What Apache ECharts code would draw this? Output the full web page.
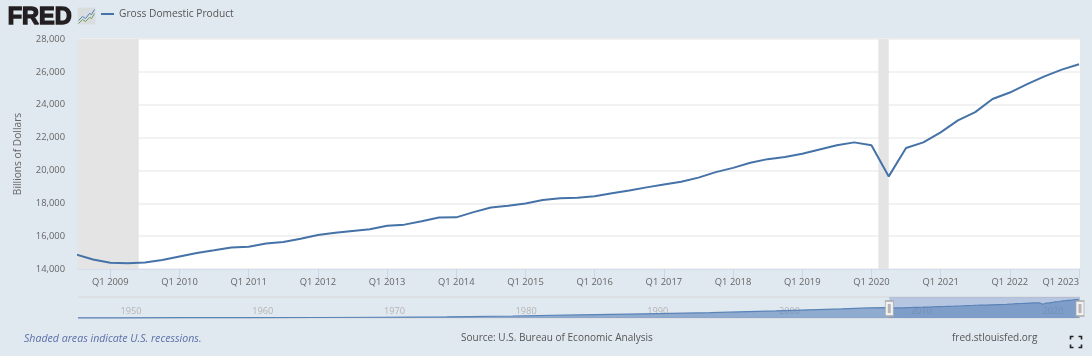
<!DOCTYPE html>
<html>
<head>
<meta charset="utf-8">
<style>html,body{margin:0;padding:0;background:#e1e9f0}#c{width:1092px;height:356px}</style>
<script src="https://cdn.jsdelivr.net/npm/echarts@6/dist/echarts.min.js"></script>
</head>
<body>
<div id="c"></div>
<script>
const seriesName = 'Gross Domestic Product';
// Quarterly values, Q3 2008 to Q1 2023 (billions of dollars)
const quarters = [2008.5,2008.75,
 2009,2009.25,2009.5,2009.75,2010,2010.25,2010.5,2010.75,2011,2011.25,2011.5,2011.75,
 2012,2012.25,2012.5,2012.75,2013,2013.25,2013.5,2013.75,2014,2014.25,2014.5,2014.75,
 2015,2015.25,2015.5,2015.75,2016,2016.25,2016.5,2016.75,2017,2017.25,2017.5,2017.75,
 2018,2018.25,2018.5,2018.75,2019,2019.25,2019.5,2019.75,2020,2020.25,2020.5,2020.75,
 2021,2021.25,2021.5,2021.75,2022,2022.25,2022.5,2022.75,2023];
const gdp = [14891,14577,
 14375,14356,14402,14542,14765,14980,15142,15310,15351,15558,15648,15842,
 16069,16207,16320,16420,16629,16700,16911,17133,17144,17463,17743,17853,
 17991,18194,18307,18332,18425,18612,18776,18968,19148,19305,19562,19895,
 20156,20470,20687,20819,21013,21272,21532,21707,21538,19637,21362,21705,
 22314,23047,23550,24349,24741,25249,25724,26137,26466];
// Earlier history for the navigator strip
const historyYears = [1947,1950,1955,1960,1965,1970,1975,1980,1985,1990,1995,2000,2005,2007];
const historyGdp = [244,294,426,543,743,1073,1685,2857,4339,5963,7640,10251,13039,14452];
const yTicks = {min:14000,max:28000,step:2000};
const tickYears = [2009,2010,2011,2012,2013,2014,2015,2016,2017,2018,2019,2020,2021,2022,2023];
const navTickYears = [1950,1960,1970,1980,1990,2000,2010,2020];
const recessions = [[2008.5,2009.41],[2020.1,2020.25]];
const viewRange = [2008.533,2023.014];
const navRange = [1947,2023.08];
const navWindow = [2008.6,2023.08];

const navData = historyYears.map((y,i)=>[y,historyGdp[i]]).concat(quarters.map((q,i)=>[q,gdp[i]]).filter(d=>d[0]>2008));
const FONT = '"Open Sans", sans-serif';
const navMax = 30000;

const handle = (x)=>[
 {coord:[x,13500],symbol:'rect',symbolSize:[8,15],itemStyle:{color:'#f2f2f2',borderColor:'#a9a9a9',borderWidth:1}},
 {coord:[x,13500],symbol:'rect',symbolSize:[3,9],itemStyle:{color:'#b5b5b5',borderWidth:0}}
];

const option = {
 animation:false,
 backgroundColor:'#e1e9f0',
 textStyle:{fontFamily:FONT},
 legend:{data:[seriesName],left:101,top:9,icon:'rect',itemWidth:13,itemHeight:2,itemGap:5,padding:0,
   textStyle:{color:'#555',fontSize:10.2,fontFamily:FONT,fontWeight:500}},
 grid:[
  {left:78,top:39,width:1002,height:230,show:true,backgroundColor:'#fff',borderWidth:0,containLabel:false},
  {left:78,top:297,width:1002,height:21,show:false}
 ],
 xAxis:[
  {type:'value',gridIndex:0,min:viewRange[0],max:viewRange[1],splitLine:{show:false},
   axisLine:{show:true,lineStyle:{color:'#d3dded',width:1}},
   axisTick:{show:true,length:9,customValues:tickYears,lineStyle:{color:'#ccd6eb',width:1}},
   axisLabel:{customValues:tickYears,formatter:v=>'Q1 '+Math.round(v),color:'#666',fontSize:9.4,margin:9,alignMaxLabel:'right',showMinLabel:true,showMaxLabel:true,fontFamily:FONT}},
  {type:'value',gridIndex:1,min:navRange[0],max:navRange[1],splitLine:{show:false},
   axisLine:{show:false},axisTick:{show:false},
   axisLabel:{inside:true,customValues:navTickYears,formatter:v=>String(Math.round(v)),color:'#b4b4b4',fontSize:9.2,align:'left',padding:[0,0,0,3],margin:2,fontFamily:FONT}}
 ],
 yAxis:[
  {type:'value',gridIndex:0,min:yTicks.min,max:yTicks.max,interval:yTicks.step,
   name:'Billions of Dollars',nameLocation:'middle',nameGap:55,nameTextStyle:{color:'#666',fontSize:10.2,fontFamily:FONT},
   axisLine:{show:false},axisTick:{show:false},
   splitLine:{show:true,lineStyle:{color:'#eeeeee',width:1.5}},
   axisLabel:{formatter:v=>v.toLocaleString('en-US'),color:'#666',fontSize:9.4,margin:13,fontFamily:FONT}},
  {type:'value',gridIndex:1,min:0,max:navMax,interval:navMax,
   axisLine:{show:false},axisTick:{show:false},axisLabel:{show:false},
   splitLine:{show:true,lineStyle:{color:'#dcdfe3',width:2}}}
 ],
 series:[
  {name:seriesName,type:'line',xAxisIndex:0,yAxisIndex:0,data:quarters.map((q,i)=>[q,gdp[i]]),
   showSymbol:false,symbol:'none',lineStyle:{color:'#4572a7',width:2},itemStyle:{color:'#4572a7'},z:3,
   markArea:{silent:true,itemStyle:{color:'#e4e4e4'},z:1,
     data:recessions.map(r=>[{xAxis:Math.max(r[0],viewRange[0])},{xAxis:r[1]}])}},
  {name:'Navigator',type:'line',xAxisIndex:1,yAxisIndex:1,data:navData,showSymbol:false,symbol:'none',
   lineStyle:{color:'#5a84b8',width:1.2},areaStyle:{color:'#5c85bb',opacity:.62},itemStyle:{color:'#4572a7'},z:3,clip:false,
   markArea:{silent:true,itemStyle:{color:'rgba(102,133,194,0.35)'},data:[[{xAxis:navWindow[0],yAxis:0},{xAxis:navWindow[1],yAxis:navMax}]]},
   markPoint:{silent:true,label:{show:false},data:handle(navWindow[0]).concat(handle(navWindow[1]))}}
 ],
 graphic:[
  {type:'text',left:7,top:5,z:10,style:{text:'FRED',fontFamily:'"Liberation Sans",Arial,sans-serif',fontWeight:'bold',fontSize:23.5,fill:'#231f20',stroke:'#231f20',lineWidth:1.4}},
  {type:'group',left:76,top:7,z:10,children:[
    {type:'rect',shape:{x:0,y:0,width:18,height:17},style:{fill:'#d9dde0'}},
    {type:'polyline',shape:{points:[[1,13],[5,9],[8,11],[12,6],[14,7],[17,2]]},style:{stroke:'#4f7fb5',fill:null,lineWidth:1}},
    {type:'polyline',shape:{points:[[1,16],[5,12],[8,14],[12,10],[14,11],[17,6]]},style:{stroke:'#6f9e5a',fill:null,lineWidth:1}}
  ]},
  {type:'text',left:24,top:333,style:{text:'Shaded areas indicate U.S. recessions.',fontFamily:FONT,fontStyle:'italic',fontSize:10.6,fill:'#5a6fa8'}},
  {type:'text',left:461,top:333,style:{text:'Source: U.S. Bureau of Economic Analysis',fontFamily:FONT,fontSize:10,fill:'#555'}},
  {type:'text',left:952,top:333,style:{text:'fred.stlouisfed.org',fontFamily:FONT,fontSize:10,fill:'#555'}},
  {type:'group',left:1068,top:334,children:[
    {type:'polyline',shape:{points:[[0,3],[0,0],[3,0]]},style:{stroke:'#222',fill:null,lineWidth:1.6}},
    {type:'polyline',shape:{points:[[8,0],[11,0],[11,3]]},style:{stroke:'#222',fill:null,lineWidth:1.6}},
    {type:'polyline',shape:{points:[[0,8],[0,11],[3,11]]},style:{stroke:'#222',fill:null,lineWidth:1.6}},
    {type:'polyline',shape:{points:[[8,11],[11,11],[11,8]]},style:{stroke:'#222',fill:null,lineWidth:1.6}}
  ]}
 ]
};
echarts.init(document.getElementById('c'),null,{renderer:'canvas'}).setOption(option);
</script>
</body>
</html>
